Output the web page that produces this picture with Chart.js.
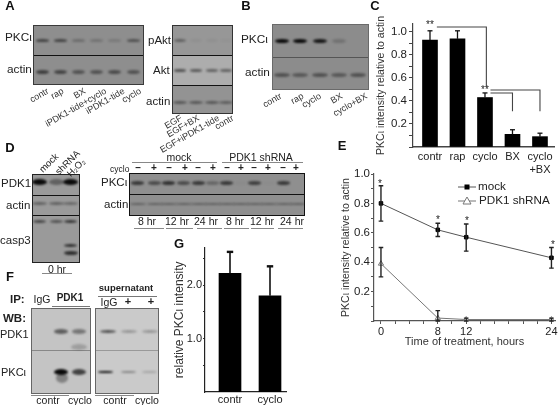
<!DOCTYPE html>
<html><head><meta charset="utf-8">
<script src="https://cdn.jsdelivr.net/npm/chart.js@4"></script>
<style>
html,body{margin:0;padding:0;background:#fff}
#root{position:relative;width:560px;height:405px;overflow:hidden;font-family:"Liberation Sans",Arial,sans-serif;color:#222;filter:blur(.3px)}
canvas{position:absolute}
.t{position:absolute;white-space:nowrap;line-height:1}
.l{position:absolute;background:#777}
.blot{position:absolute;box-sizing:border-box;overflow:hidden}
.band{position:absolute;border-radius:50%;filter:blur(1px)}
</style></head><body><div id="root"></div>
<script>
// ---------- Panel C ----------
const cCategories=['contr','rap','cyclo','BX',['cyclo','+BX']];
const cValues=[0.93,0.94,0.43,0.11,0.09];
const cErrHigh=[1.01,1.01,0.47,0.15,0.12];
// ---------- Panel E ----------
const eHours=[0,8,12,24];
const eMock=[0.80,0.62,0.57,0.43];
const eMockLow=[0.68,0.575,0.475,0.36];
const eMockHigh=[0.92,0.665,0.66,0.50];
const eShrna=[0.39,0.02,0.01,0.01];
const eShrnaLow=[0.30,0.0,0.0,0.0];
const eShrnaHigh=[0.50,0.07,0.02,0.02];
const eSeriesNames=['mock','PDK1 shRNA'];
// ---------- Panel G ----------
const gCategories=['contr','cyclo'];
const gValues=[2.22,1.80];
const gErrHigh=[2.62,2.35];
// ---------- Blot band densities, lane by lane ----------
const aPkc=[.55,.55,.25,.2,.15,.45];
const aActin=[.6,.55,.45,.45,.5,.45];
const a2pAkt=[.4,.05,.05,.03];
const a2Akt=[.55,.5,.45,.45];
const a2Actin=[.45,.45,.45,.4];
const bPkc=[1,1,.9,.2,0];
const bActin=[.45,.4,.45,.4,.45];
const dPdk1=[1,.4,1];
const dActin=[.4,.4,.35];
const dCasp=[.6,.5,.7];
const dCleaved=[0,0,.75];
const dRPkc=[.65,.5,.7,.5,.65,.3,.65,.03,.6,.02,.65,0];
const dRActin=[.35,.35,.35,.35,.35,.35,.35,.35,.35,.35,.35,.35];
const fPdk1=[.65,.5];
const fPkc=[1,.7];
const f2Pdk1=[.7,.3,.3];
const f2Pkc=[.95,.35,.2];

const root=document.getElementById('root');
function T(s,x,y,size,o={}){
  const d=document.createElement('div');d.className='t';d.textContent=s;
  d.style.fontSize=size+'px';if(o.bold)d.style.fontWeight='bold';if(o.color)d.style.color=o.color;
  const a=o.anchor||'center';d.style.top=(y-size/2)+'px';
  if(a==='center'){d.style.left=x+'px';d.style.transform='translateX(-50%)';}
  if(a==='left'){d.style.left=x+'px';}
  if(a==='right'){d.style.right=(560-x)+'px';}
  if(o.rot){d.style.transformOrigin='right center';d.style.transform='rotate('+o.rot+'deg)';}
  root.appendChild(d);return d;
}
function L(x1,x2,y,c,h){const d=document.createElement('div');d.className='l';
  d.style.cssText+=`left:${x1}px;width:${x2-x1}px;top:${y}px;height:${h||1}px;background:${c||'#777'}`;root.appendChild(d);}
function blot(x,y,w,h,bg,border,bw){const d=document.createElement('div');d.className='blot';
  d.style.cssText+=`left:${x}px;top:${y}px;width:${w}px;height:${h}px;background:${bg};border:${bw||1.5}px solid ${border}`;root.appendChild(d);
  return {d,x,y,bw:bw||1.5};}
function strip(b,y,h,bg){const s=document.createElement('div');s.style.cssText=`position:absolute;left:0;right:0;top:${y-b.y-b.bw}px;height:${h}px;background:${bg}`;b.d.appendChild(s);}
function div(b,y,c,h){const s=document.createElement('div');s.style.cssText=`position:absolute;left:0;right:0;top:${y-b.y-b.bw}px;height:${h||1.5}px;background:${c}`;b.d.appendChild(s);}
function bands(b,xs,y,vals,w,h,rgb){vals.forEach((v,i)=>{if(v<=0)return;const s=document.createElement('div');s.className='band';
  s.style.cssText+=`left:${xs[i]-w/2-b.x-b.bw}px;top:${y-h/2-b.y-b.bw}px;width:${w}px;height:${h}px;background:rgba(${rgb||'10,10,10'},${v})`;b.d.appendChild(s);});}

// Panel A
let b=blot(33,25,111,59.5,'#8e8e8e','#3a3a3a');div(b,55,'#111');
const xA=[43,61,79,97,115,134];
bands(b,xA,41,aPkc,13,3.5);bands(b,xA,72,aActin,13,4);
T('PKCι',5,38,11.8,{anchor:'left'});T('actin',7,70,11.8,{anchor:'left'});
[['contr',48],['rap',63],['BX',85],['iPDK1-tide+cyclo',106],['iPDK1-tide',124],['cyclo',141]].forEach(a=>T(a[0],a[1],90,9,{anchor:'right',rot:-30,color:'#333'}));
b=blot(172,25,61,89,'#979797','#333');strip(b,55,30,'#adadad');strip(b,85,29,'#939393');div(b,55,'#111');div(b,85,'#111');
const xA2=[180,196,212,226];
bands(b,xA2,41,a2pAkt,12,3);bands(b,xA2,71,a2Akt,12,2.5);bands(b,xA2,103,a2Actin,14,3);
T('pAkt',148,41,11.5,{anchor:'left'});T('Akt',153,71,11.5,{anchor:'left'});T('actin',146,102,11.5,{anchor:'left'});
[['EGF',182],['EGF+BX',199],['EGF+iPDK1-tide',219],['contr',233]].forEach(a=>T(a[0],a[1],117,9,{anchor:'right',rot:-30,color:'#333'}));
// Panel B
b=blot(272,24,97,65.5,'#8c8c8c','#6a6a6a',1);div(b,57,'#555',1);
const xB=[282,300,320,339,358];
bands(b,xB,41,bPkc,14,4);bands(b,xB,75,bActin,16,4);
T('PKCι',241,40,11.8,{anchor:'left'});T('actin',245,73,11.8,{anchor:'left'});
[['contr',281],['rap',303],['cyclo',321],['BX',342],['cyclo+BX',367]].forEach(a=>T(a[0],a[1],95,9,{anchor:'right',rot:-30,color:'#333'}));
// Panel D left
b=blot(32,174,48,88.5,'#9a9a9a','#222',1.2);div(b,195,'#111',1);div(b,215,'#111',1);
const xD=[40,57,71];
bands(b,xD,182,dPdk1,15,6);bands(b,xD,204,dActin,15,3);bands(b,xD,222,dCasp,13,3);
bands(b,xD,246,dCleaved,13,3);bands(b,xD,253,dCleaved,14,4);
T('PDK1',1,184,11.5,{anchor:'left'});T('actin',6,206,11.5,{anchor:'left'});T('casp3',0,241,11.5,{anchor:'left'});
[['mock',57,155],['shRNA',78,152],['H₂O₂',84,160]].forEach(a=>T(a[0],a[1],a[2],9.5,{anchor:'right',rot:-45}));
T('0 hr',57,269,10.5);L(42,72,273,'#888');
// Panel D right
b=blot(129,173,176,42.5,'#8f8f8f','#111',1.2);div(b,194,'#111',1);
const xDr=[138,155,169,184,199,213,227,241,255,269,284,298];
bands(b,xDr,183,dRPkc,13,3.5);bands(b,xDr,204,dRActin,16,2);
T('PKCι',101,183,11.5,{anchor:'left'});T('actin',104,205,11.5,{anchor:'left'});
T('mock',179,157,10.5);L(132,217,162,'#888');T('PDK1 shRNA',261,157,10.5);L(222,303,162,'#888');
T('cyclo',110,169,8.5,{anchor:'left'});
['–','+','–','+','–','+','–','+','–','+','–','+'].forEach((s,i)=>T(s,[138,154,169,185,198,213,227,241,254,268,283,296][i],168,10,{bold:true}));
[['8 hr',147,134,164],['12 hr',177,166,193],['24 hr',206,197,222],['8 hr',235,224,249],['12 hr',262,251,274],['24 hr',292,278,303]].forEach(a=>{T(a[0],a[1],221,10.5);L(a[2],a[3],228,'#888');});
// Panel F
b=blot(31,308,60,85.5,'#c4c4c4','#666',1);div(b,350,'#888',1);
bands(b,[61,79],331,fPdk1,14,5,'40,40,40');bands(b,[61,79],372,fPkc,14,6);
bands(b,[79],347,[.2],16,6);bands(b,[62],378,[.35],12,10);
b=blot(95,308,64,85.5,'#cacaca','#666',1);div(b,350,'#999',1);
bands(b,[108,129,150],331,f2Pdk1,16,3,'30,30,30');bands(b,[105,128,149],372,f2Pkc,15,2.5);
T('IP:',10,300,11.5,{anchor:'left',bold:true});T('IgG',42,299,10.5);T('PDK1',70,298,10,{bold:true});L(52,90,306,'#777');
T('supernatant',126,288,9.5,{bold:true});L(98,157,296,'#777');T('IgG',109,302,10.5);T('+',128,301,11,{bold:true});T('+',151,301,11,{bold:true});
T('WB:',3,319,11.5,{anchor:'left',bold:true});T('PDK1',0,334,11,{anchor:'left'});T('PKCι',1,372,11,{anchor:'left'});
T('contr',48,400,10.5);T('cyclo',80,400,10.5);T('contr',115,400,10.5);T('cyclo',147,400,10.5);L(31,69,395,'#888');L(95,134,395,'#888');
// Panel letters
[['A',10,5],['B',246,5],['C',375,5],['D',10,147],['E',342,145],['F',10,276],['G',179,243]].forEach(a=>T(a[0],a[1],a[2],13,{bold:true,color:'#111'}));
// Star markers
[['**',430,25],['**',485,90],['*',380,184],['*',438,220],['*',467,221],['*',553,245]].forEach(a=>T(a[0],a[1],a[2],10));

function mk(x,y,w,h){const c=document.createElement('canvas');c.width=w;c.height=h;c.style.cssText=`left:${x}px;top:${y}px;width:${w}px;height:${h}px`;root.appendChild(c);return c;}
Chart.defaults.font.family='"Liberation Sans",Arial,sans-serif';
Chart.defaults.color='#222';

const errorBars={id:'errorBars',afterDatasetsDraw(ch){
  const cx=ch.ctx;ch.data.datasets.forEach(ds=>{ if(!ds.errHigh)return;
    const xs=ch.scales.x,ys=ch.scales.y;cx.save();cx.strokeStyle=ds.errColor||'#111';
    ds.data.forEach((p,i)=>{const x=xs.getPixelForValue(p.x),hi=ys.getPixelForValue(ds.errHigh[i]),
      lo=ys.getPixelForValue(ds.errLow?ds.errLow[i]:p.y);
      cx.lineWidth=ds.errWidth||1.3;cx.beginPath();cx.moveTo(x,lo);cx.lineTo(x,hi);cx.stroke();
      cx.lineWidth=ds.capWidth||1.3;const c=ds.cap||2.5;
      cx.beginPath();cx.moveTo(x-c,hi);cx.lineTo(x+c,hi);
      if(ds.errLow){cx.moveTo(x-c,lo);cx.lineTo(x+c,lo);}
      cx.stroke();});cx.restore();});
}};
function setTicks(vals){return s=>{s.ticks=vals.map(v=>({value:v}));};}
const base={responsive:false,animation:false,plugins:{legend:{display:false},tooltip:{enabled:false}}};
const pairs=a=>a.map((v,i)=>({x:i,y:v}));

// Chart C: category positions mapped on a numeric x scale
new Chart(mk(375,15,185,165),{type:'bar',
  data:{datasets:[{data:pairs(cValues),backgroundColor:'#000',barThickness:15,errHigh:cErrHigh,cap:2.5}]},
  options:{...base,layout:{padding:{top:7,right:6,left:0,bottom:0}},
   scales:{
    x:{type:'linear',offset:false,min:-0.618,max:4.51,afterFit:s=>{s.height=33;},afterBuildTicks:setTicks([0,1,2,3,4]),
       grid:{display:true,drawOnChartArea:false,drawTicks:false},border:{color:'#444',width:1.6},
       ticks:{autoSkip:false,maxRotation:0,padding:3,font:{size:11},callback:v=>cCategories[v]}},
    y:{min:0,max:1.07,afterFit:s=>{s.width=38;},afterBuildTicks:setTicks([0,.1,.2,.3,.4,.5,.6,.7,.8,.9,1]),
       grid:{display:true,drawOnChartArea:false,tickLength:4,tickColor:'#444'},border:{color:'#444',width:1.2},
       title:{display:true,text:'PKCι intensity relative to actin',font:{size:10.5},padding:0,color:'#333'},
       ticks:{autoSkip:false,padding:2,font:{size:11.5},callback:v=>{const r=Math.round(v*10);return (r>0&&r%2===0)?v.toFixed(1):'';}}}
   }},
  plugins:[errorBars,{id:'brackets',afterDatasetsDraw(ch){const x=ch.scales.x,y=ch.scales.y,c=ch.ctx;
    const paths=[[[0.25,1.043],[2.05,1.043],[2.05,0.52]],[[2.2,0.47],[3,0.47],[3,0.31]],[[2.2,0.495],[4,0.495],[4,0.31]]];
    c.save();c.strokeStyle='#444';c.lineWidth=1.1;paths.forEach(p=>{c.beginPath();p.forEach((q,i)=>{const X=x.getPixelForValue(q[0]),Y=y.getPixelForValue(q[1]);i?c.lineTo(X,Y):c.moveTo(X,Y);});c.stroke();});c.restore();}}]
});

// Chart E
const xy=(a)=>a.map((v,i)=>({x:eHours[i],y:v}));
new Chart(mk(340,165,220,185),{type:'line',
  data:{datasets:[
   {label:eSeriesNames[0],data:xy(eMock),borderColor:'#555',borderWidth:1,pointStyle:'rect',pointRadius:2.5,pointBackgroundColor:'#000',pointBorderColor:'#000',errLow:eMockLow,errHigh:eMockHigh,errColor:'#222',errWidth:1.4,cap:2.3,order:1},
   {label:eSeriesNames[1],data:xy(eShrna),borderColor:'#777',borderWidth:1,pointStyle:'triangle',pointRadius:3,pointBackgroundColor:'#fff',pointBorderColor:'#777',errLow:eShrnaLow,errHigh:eShrnaHigh,errColor:'#222',errWidth:1.4,cap:2.3,order:2}
  ]},
  options:{...base,layout:{padding:{top:9,right:3,left:0,bottom:0}},
   scales:{
    x:{type:'linear',min:-0.98,max:24.5,afterFit:s=>{s.height=29;},afterBuildTicks:setTicks([0,2,4,6,8,10,12,14,16,18,20,22,24]),
      grid:{display:true,drawOnChartArea:false,tickLength:3,tickColor:'#555'},border:{color:'#555',width:1.2},
      title:{display:true,text:'Time of treatment, hours',font:{size:11},padding:{top:0,bottom:1},color:'#333'},
      ticks:{autoSkip:false,maxRotation:0,padding:1,font:{size:11},callback:v=>eHours.includes(v)?String(v):''}},
    y:{min:0,max:1,afterFit:s=>{s.width=34;},afterBuildTicks:setTicks([0,.1,.2,.3,.4,.5,.6,.7,.8,.9,1]),
      grid:{display:true,drawOnChartArea:false,tickLength:3,tickColor:'#555'},border:{color:'#555',width:1.2},
      title:{display:true,text:'PKCι intensity relative to actin',font:{size:10.5},padding:0,color:'#333'},
      ticks:{autoSkip:false,padding:1,font:{size:11.5},callback:v=>{const r=Math.round(v*10);return (r>0&&r%2===0)?v.toFixed(1):'';}}}
   }},
  plugins:[errorBars,{id:'swatches',afterDraw(ch){const c=ch.ctx,ox=458-340,w=18;
    const ds=ch.data.datasets;[[187-165,ds[0]],[201-165,ds[1]]].forEach(a=>{c.save();c.strokeStyle=a[1].borderColor;c.lineWidth=1;c.beginPath();c.moveTo(ox,a[0]);c.lineTo(ox+w,a[0]);c.stroke();
      c.fillStyle=a[1].pointBackgroundColor;c.strokeStyle=a[1].pointBorderColor;
      if(a[1].pointStyle==='rect'){c.fillRect(ox+6.5,a[0]-2.5,5,5);}else{c.beginPath();c.moveTo(ox+9,a[0]-4);c.lineTo(ox+13,a[0]+3);c.lineTo(ox+5,a[0]+3);c.closePath();c.fill();c.stroke();}
      c.restore();});}}]
});
T(eSeriesNames[0],478,186,11.7,{anchor:'left'});T(eSeriesNames[1],479,200,11.7,{anchor:'left'});

// Chart G
new Chart(mk(172,240,116,165),{type:'bar',
  data:{datasets:[{data:pairs(gValues),backgroundColor:'#000',barThickness:22,errHigh:gErrHigh,errWidth:1.6,capWidth:2.4,cap:3.2}]},
  options:{...base,layout:{padding:{top:7,right:2,left:0,bottom:0}},
   scales:{
    x:{type:'linear',offset:false,min:-0.625,max:1.4,afterFit:s=>{s.height=13;},afterBuildTicks:setTicks([0,1]),
      grid:{display:true,drawOnChartArea:false,drawTicks:false},border:{color:'#222',width:1.2},
      ticks:{autoSkip:false,maxRotation:0,padding:1,font:{size:11},callback:v=>gCategories[v]}},
    y:{min:0,max:2.7,afterFit:s=>{s.width=33;},afterBuildTicks:setTicks([.5,1,1.5,2,2.5]),
      grid:{display:true,drawOnChartArea:false,tickLength:2,tickColor:'#333'},border:{color:'#222',width:1.2},
      title:{display:true,text:'relative PKCι intensity',font:{size:12},padding:0,color:'#333'},
      ticks:{autoSkip:false,padding:1,font:{size:11},callback:v=>(v===1||v===2)?v.toFixed(1):''}}
   }},
  plugins:[errorBars]
});
</script></body></html>
